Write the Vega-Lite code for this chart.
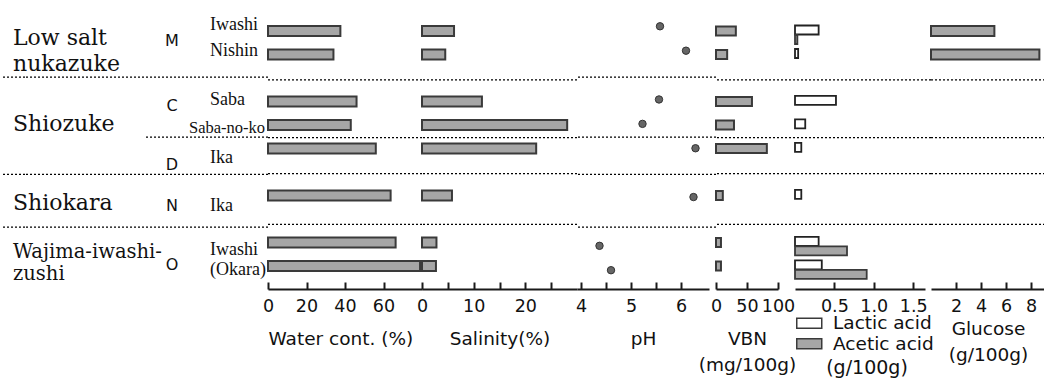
{
  "$schema": "https://vega.github.io/schema/vega-lite/v6.json",
  "background": "white",
  "padding": {"left": 0, "top": 15, "right": 0, "bottom": 0},
  "spacing": 0,
  "bounds": "flush",
  "resolve": {"scale": {"x": "independent", "y": "independent", "fill": "independent"}, "legend": {"fill": "independent"}},
  "config": {
    "view": {"stroke": null},
    "axisY": {"labels": false, "ticks": false, "grid": false, "title": null, "domainColor": "#1a1a1a", "domainWidth": 2},
    "axisX": {"grid": false, "domainColor": "#1a1a1a", "domainWidth": 2, "tickColor": "#1a1a1a", "tickWidth": 2, "tickSize": -7, "labelPadding": 15, "labelFont": "DejaVu Sans", "labelFontSize": 17.5, "labelColor": "#111", "labelFlush": false, "labelOverlap": false, "titleFont": "DejaVu Sans", "titleFontSize": 18.5, "titleFontWeight": "normal", "titleColor": "#111", "titlePadding": 15, "titleLineHeight": 26}
  },
  "datasets": {
    "samples": [
      {"slot": 0, "sample": "Iwashi", "water": 37.6, "salinity": 6.2, "ph": 5.58, "vbn": 32, "lactic": 0.30, "acetic": 0.03, "glucose": 5.07},
      {"slot": 1, "sample": "Nishin", "water": 34, "salinity": 4.5, "ph": 6.1, "vbn": 18, "lactic": 0.04, "acetic": null, "glucose": 8.67},
      {"slot": 3, "sample": "Saba", "water": 46, "salinity": 11.6, "ph": 5.56, "vbn": 58, "lactic": 0.52, "acetic": null, "glucose": null},
      {"slot": 4, "sample": "Saba-no-ko", "water": 43, "salinity": 28.1, "ph": 5.23, "vbn": 29, "lactic": 0.13, "acetic": null, "glucose": null},
      {"slot": 5, "sample": "Ika", "water": 56, "salinity": 22.1, "ph": 6.29, "vbn": 82, "lactic": 0.08, "acetic": null, "glucose": null},
      {"slot": 7, "sample": "Ika", "water": 63.7, "salinity": 5.8, "ph": 6.25, "vbn": 11, "lactic": 0.08, "acetic": null, "glucose": null},
      {"slot": 9, "sample": "Iwashi", "water": 66.3, "salinity": 2.8, "ph": 4.37, "vbn": 8, "lactic": 0.30, "acetic": 0.66, "glucose": null},
      {"slot": 10, "sample": "(Okara)", "water": 79, "salinity": 2.7, "ph": 4.6, "vbn": 8, "lactic": 0.34, "acetic": 0.91, "glucose": null}
    ],
    "seps": [
      {"sep": 2.08, "full": true},
      {"sep": 4.54, "full": false},
      {"sep": 6.07, "full": true},
      {"sep": 8.23, "full": true}
    ],
    "labels": [
      {"kind": "group", "slot": 0.78, "text": "Low salt"},
      {"kind": "group", "slot": 1.84, "text": "nukazuke"},
      {"kind": "group", "slot": 4.30, "text": "Shiozuke"},
      {"kind": "group", "slot": 7.52, "text": "Shiokara"},
      {"kind": "group2", "slot": 9.50, "text": "Wajima-iwashi-"},
      {"kind": "group2", "slot": 10.39, "text": "zushi"},
      {"kind": "letter", "slot": 0.82, "text": "M"},
      {"kind": "letter", "slot": 3.48, "text": "C"},
      {"kind": "letter", "slot": 5.88, "text": "D"},
      {"kind": "letter", "slot": 7.58, "text": "N"},
      {"kind": "letter", "slot": 9.98, "text": "O"},
      {"kind": "name", "slot": 0.14, "text": "Iwashi"},
      {"kind": "name", "slot": 1.23, "text": "Nishin"},
      {"kind": "name", "slot": 3.21, "text": "Saba"},
      {"kind": "longname", "slot": 4.37, "text": "Saba-no-ko"},
      {"kind": "name", "slot": 5.60, "text": "Ika"},
      {"kind": "name", "slot": 7.58, "text": "Ika"},
      {"kind": "name", "slot": 9.39, "text": "Iwashi"},
      {"kind": "name", "slot": 10.2, "text": "(Okara)"}
    ]
  },
  "hconcat": [
    {
      "width": 24, "height": 271,
      "layer": [
        {"data": {"name": "seps"}, "transform": [{"filter": "datum.full"}], "mark": {"type": "rule", "color": "#000", "strokeWidth": 1.2, "strokeDash": [2, 2]}, "encoding": {"y": {"field": "sep", "type": "quantitative", "scale": {"domain": [-0.34, 10.77], "reverse": true, "nice": false, "zero": false}, "axis": null}}},
        {"data": {"name": "labels"}, "transform": [{"filter": "datum.kind === 'group'"}], "mark": {"type": "text", "font": "DejaVu Serif", "fontSize": 22, "align": "left", "baseline": "alphabetic", "color": "#111"}, "encoding": {"y": {"field": "slot", "type": "quantitative", "scale": {"domain": [-0.34, 10.77], "reverse": true, "nice": false, "zero": false}, "axis": null}, "text": {"field": "text"}}},
        {"data": {"name": "labels"}, "transform": [{"filter": "datum.kind === 'group2'"}], "mark": {"type": "text", "font": "DejaVu Serif", "fontSize": 19.5, "align": "left", "baseline": "alphabetic", "color": "#111"}, "encoding": {"y": {"field": "slot", "type": "quantitative", "scale": {"domain": [-0.34, 10.77], "reverse": true, "nice": false, "zero": false}, "axis": null}, "text": {"field": "text"}}}
      ]
    },
    {
      "width": 119, "height": 271,
      "layer": [
        {"data": {"name": "seps"}, "transform": [{"filter": "datum.full"}], "mark": {"type": "rule", "color": "#000", "strokeWidth": 1.2, "strokeDash": [2, 2]}, "encoding": {"y": {"field": "sep", "type": "quantitative", "scale": {"domain": [-0.34, 10.77], "reverse": true, "nice": false, "zero": false}, "axis": null}}}
      ]
    },
    {
      "width": 56, "height": 271,
      "layer": [
        {"data": {"name": "seps"}, "mark": {"type": "rule", "color": "#000", "strokeWidth": 1.2, "strokeDash": [2, 2]}, "encoding": {"y": {"field": "sep", "type": "quantitative", "scale": {"domain": [-0.34, 10.77], "reverse": true, "nice": false, "zero": false}, "axis": null}}},
        {"data": {"name": "labels"}, "transform": [{"filter": "datum.kind === 'letter'"}], "mark": {"type": "text", "font": "DejaVu Sans", "fontSize": 16, "align": "center", "baseline": "alphabetic", "color": "#111"}, "encoding": {"y": {"field": "slot", "type": "quantitative", "scale": {"domain": [-0.34, 10.77], "reverse": true, "nice": false, "zero": false}, "axis": null}, "text": {"field": "text"}}}
      ]
    },
    {
      "width": 20, "height": 271,
      "layer": [
        {"data": {"name": "seps"}, "mark": {"type": "rule", "color": "#000", "strokeWidth": 1.2, "strokeDash": [2, 2]}, "encoding": {"y": {"field": "sep", "type": "quantitative", "scale": {"domain": [-0.34, 10.77], "reverse": true, "nice": false, "zero": false}, "axis": null}}},
        {"data": {"name": "labels"}, "transform": [{"filter": "datum.kind === 'name'"}], "mark": {"type": "text", "font": "Liberation Serif", "fontSize": 18, "align": "left", "baseline": "alphabetic", "color": "#111"}, "encoding": {"y": {"field": "slot", "type": "quantitative", "scale": {"domain": [-0.34, 10.77], "reverse": true, "nice": false, "zero": false}, "axis": null}, "text": {"field": "text"}}},
        {"data": {"name": "labels"}, "transform": [{"filter": "datum.kind === 'longname'"}], "mark": {"type": "text", "font": "Liberation Serif", "fontSize": 16.5, "align": "left", "dx": -21, "baseline": "alphabetic", "color": "#111"}, "encoding": {"y": {"field": "slot", "type": "quantitative", "scale": {"domain": [-0.34, 10.77], "reverse": true, "nice": false, "zero": false}, "axis": null}, "text": {"field": "text"}}}
      ]
    },
    {
      "width": 48, "height": 271,
      "layer": [
        {"data": {"name": "seps"}, "mark": {"type": "rule", "color": "#000", "strokeWidth": 1.2, "strokeDash": [2, 2]}, "encoding": {"y": {"field": "sep", "type": "quantitative", "scale": {"domain": [-0.34, 10.77], "reverse": true, "nice": false, "zero": false}, "axis": null}}}
      ]
    },
    {
      "width": 154, "height": 271,
      "layer": [
        {"data": {"name": "seps"}, "mark": {"type": "rule", "color": "#000", "strokeWidth": 1.2, "strokeDash": [2, 2]}, "encoding": {"y": {"field": "sep", "type": "quantitative", "scale": {"domain": [-0.34, 10.77], "reverse": true, "nice": false, "zero": false}, "axis": null}}},
        {"data": {"name": "samples"}, "mark": {"type": "bar", "orient": "horizontal", "height": 10, "fill": "#a6a6a6", "stroke": "#3a3a3a", "strokeWidth": 2}, "encoding": {
          "x": {"field": "water", "type": "quantitative", "stack": null, "scale": {"domain": [0, 80], "nice": false, "zero": false}, "axis": {"values": [0, 20, 40, 60], "title": "Water cont. (%)", "titleAnchor": "start"}},
          "y": {"field": "slot", "type": "quantitative", "scale": {"domain": [-0.34, 10.77], "reverse": true, "nice": false, "zero": false}}}}
      ]
    },
    {
      "width": 155, "height": 271,
      "layer": [
        {"data": {"name": "seps"}, "mark": {"type": "rule", "color": "#000", "strokeWidth": 1.2, "strokeDash": [2, 2]}, "encoding": {"y": {"field": "sep", "type": "quantitative", "scale": {"domain": [-0.34, 10.77], "reverse": true, "nice": false, "zero": false}, "axis": null}}},
        {"data": {"name": "samples"}, "mark": {"type": "bar", "orient": "horizontal", "height": 10, "fill": "#a6a6a6", "stroke": "#3a3a3a", "strokeWidth": 2}, "encoding": {
          "x": {"field": "salinity", "type": "quantitative", "stack": null, "scale": {"domain": [0, 30], "nice": false, "zero": false}, "axis": {"values": [0, 5, 10, 15, 20, 25], "labelExpr": "datum.value % 10 === 0 ? datum.label : ''", "title": "Salinity(%)"}},
          "y": {"field": "slot", "type": "quantitative", "scale": {"domain": [-0.34, 10.77], "reverse": true, "nice": false, "zero": false}}}}
      ]
    },
    {
      "width": 139, "height": 271,
      "layer": [
        {"data": {"name": "seps"}, "mark": {"type": "rule", "color": "#000", "strokeWidth": 1.2, "strokeDash": [2, 2]}, "encoding": {"y": {"field": "sep", "type": "quantitative", "scale": {"domain": [-0.34, 10.77], "reverse": true, "nice": false, "zero": false}, "axis": null}}},
        {"data": {"name": "samples"}, "mark": {"type": "circle", "size": 55, "color": "#666666", "stroke": "#333333", "strokeWidth": 1, "opacity": 1}, "encoding": {
          "x": {"field": "ph", "type": "quantitative", "scale": {"domain": [3.92, 6.56], "range": [0, 132], "nice": false, "zero": false}, "axis": {"values": [4, 4.5, 5, 5.5, 6], "labelExpr": "datum.value % 1 === 0 ? format(datum.value, 'd') : ''", "title": "pH"}},
          "y": {"field": "slot", "type": "quantitative", "scale": {"domain": [-0.34, 10.77], "reverse": true, "nice": false, "zero": false}}}}
      ]
    },
    {
      "width": 79, "height": 271,
      "layer": [
        {"data": {"name": "seps"}, "mark": {"type": "rule", "color": "#000", "strokeWidth": 1.2, "strokeDash": [2, 2]}, "encoding": {"y": {"field": "sep", "type": "quantitative", "scale": {"domain": [-0.34, 10.77], "reverse": true, "nice": false, "zero": false}, "axis": null}}},
        {"data": {"name": "samples"}, "mark": {"type": "bar", "orient": "horizontal", "height": 9, "fill": "#a6a6a6", "stroke": "#3a3a3a", "strokeWidth": 2}, "encoding": {
          "x": {"field": "vbn", "type": "quantitative", "stack": null, "scale": {"domain": [0, 100], "range": [0, 62], "nice": false, "zero": false}, "axis": {"values": [0, 50, 100], "title": ["VBN", "(mg/100g)"]}},
          "y": {"field": "slot", "type": "quantitative", "scale": {"domain": [-0.34, 10.77], "reverse": true, "nice": false, "zero": false}}}}
      ]
    },
    {
      "width": 136, "height": 271,
      "layer": [
        {"data": {"name": "seps"}, "mark": {"type": "rule", "color": "#000", "strokeWidth": 1.2, "strokeDash": [2, 2]}, "encoding": {"y": {"field": "sep", "type": "quantitative", "scale": {"domain": [-0.34, 10.77], "reverse": true, "nice": false, "zero": false}, "axis": null}}},
        {"data": {"name": "samples"}, "mark": {"type": "bar", "orient": "horizontal", "height": 9, "yOffset": -1, "stroke": "#222222", "strokeWidth": 1.8}, "encoding": {
          "x": {"field": "lactic", "type": "quantitative", "stack": null, "scale": {"domain": [0, 1.65], "range": [0, 130], "nice": false, "zero": false}, "axis": {"values": [0.5, 1, 1.5], "format": ".1f", "title": null}},
          "y": {"field": "slot", "type": "quantitative", "scale": {"domain": [-0.34, 10.77], "reverse": true, "nice": false, "zero": false}},
          "fill": {"datum": "Lactic acid", "type": "nominal", "scale": {"domain": ["Lactic acid", "Acetic acid"], "range": ["#ffffff", "#a6a6a6"]}, "legend": {"title": "(g/100g)", "orient": "bottom", "direction": "vertical", "titleOrient": "bottom", "titleAnchor": "middle", "offset": -6, "padding": 5, "symbolType": "M-1.5625,-0.625H1.5625V0.625H-1.5625Z", "symbolSize": 256, "symbolStrokeColor": "#111111", "symbolStrokeWidth": 1.5, "labelFont": "DejaVu Sans", "labelFontSize": 18.5, "labelColor": "#111", "labelOffset": 14.5, "titleFont": "DejaVu Sans", "titleFontSize": 19, "titleFontWeight": "normal", "titleColor": "#111", "titlePadding": 6, "rowPadding": 1.5}}}},
        {"data": {"name": "samples"}, "mark": {"type": "bar", "orient": "horizontal", "height": 9, "yOffset": 8.5, "stroke": "#3a3a3a", "strokeWidth": 1.8}, "encoding": {
          "x": {"field": "acetic", "type": "quantitative", "stack": null},
          "y": {"field": "slot", "type": "quantitative", "scale": {"domain": [-0.34, 10.77], "reverse": true, "nice": false, "zero": false}},
          "fill": {"datum": "Acetic acid", "type": "nominal"}}}
      ]
    },
    {
      "width": 114, "height": 271,
      "layer": [
        {"data": {"name": "seps"}, "mark": {"type": "rule", "color": "#000", "strokeWidth": 1.2, "strokeDash": [2, 2]}, "encoding": {"y": {"field": "sep", "type": "quantitative", "scale": {"domain": [-0.34, 10.77], "reverse": true, "nice": false, "zero": false}, "axis": null}}},
        {"data": {"name": "samples"}, "mark": {"type": "bar", "orient": "horizontal", "height": 10, "fill": "#a6a6a6", "stroke": "#3a3a3a", "strokeWidth": 2}, "encoding": {
          "x": {"field": "glucose", "type": "quantitative", "stack": null, "scale": {"domain": [0, 9.12], "nice": false, "zero": false}, "axis": {"values": [2, 4, 6, 8], "title": ["Glucose", "(g/100g)"], "titlePadding": 5}},
          "y": {"field": "slot", "type": "quantitative", "scale": {"domain": [-0.34, 10.77], "reverse": true, "nice": false, "zero": false}}}}
      ]
    }
  ]
}
